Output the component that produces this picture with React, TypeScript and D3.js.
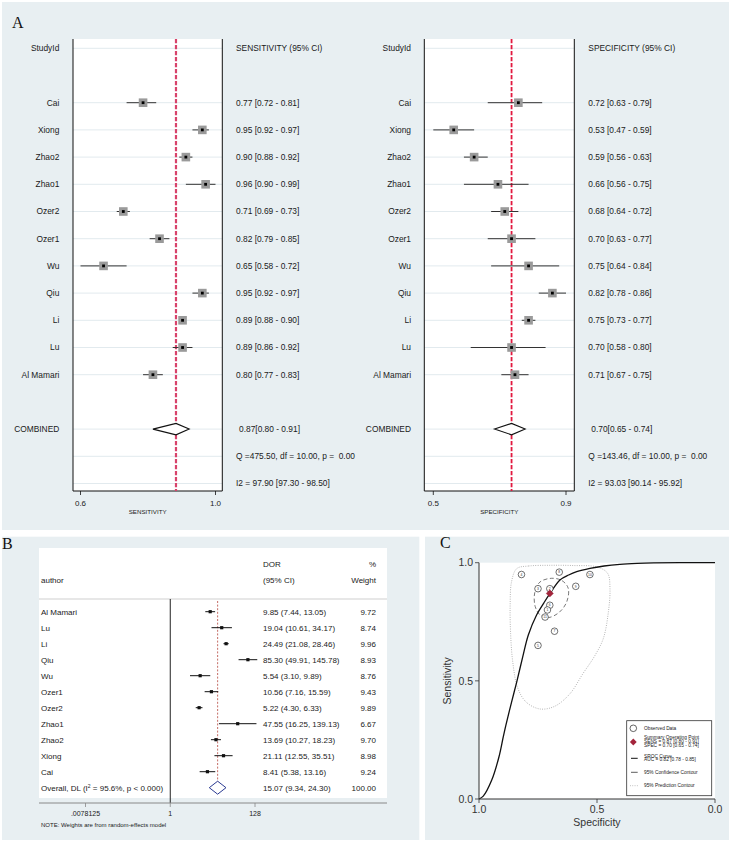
import React from 'react';
import * as d3 from 'd3';

const W = 731;
const H = 844;
const SANS = "'Liberation Sans', Arial, Helvetica, sans-serif";
const SERIF = "'Liberation Serif', 'Times New Roman', serif";
const BG = '#e8eff2';
const INK = '#1a1a1a';

// ---- Panel A: bivariate forest plot (sensitivity / specificity) ----
const studyIds = ['Cai', 'Xiong', 'Zhao2', 'Zhao1', 'Ozer2', 'Ozer1', 'Wu', 'Qiu', 'Li', 'Lu', 'Al Mamari'];
const sensEst = [0.77, 0.95, 0.9, 0.96, 0.71, 0.82, 0.65, 0.95, 0.89, 0.89, 0.8];
const sensLo = [0.72, 0.92, 0.88, 0.9, 0.69, 0.79, 0.58, 0.92, 0.88, 0.86, 0.77];
const sensHi = [0.81, 0.97, 0.92, 0.99, 0.73, 0.85, 0.72, 0.97, 0.9, 0.92, 0.83];
const specEst = [0.72, 0.53, 0.59, 0.66, 0.68, 0.7, 0.75, 0.82, 0.75, 0.7, 0.71];
const specLo = [0.63, 0.47, 0.56, 0.56, 0.64, 0.63, 0.64, 0.78, 0.73, 0.58, 0.67];
const specHi = [0.79, 0.59, 0.63, 0.75, 0.72, 0.77, 0.84, 0.86, 0.77, 0.8, 0.75];
const sensPooled = [0.87, 0.8, 0.91];
const specPooled = [0.7, 0.65, 0.74];
const sensHet = ['Q =475.50, df = 10.00, p =  0.00', 'I2 = 97.90 [97.30 - 98.50]'];
const specHet = ['Q =143.46, df = 10.00, p =  0.00', 'I2 = 93.03 [90.14 - 95.92]'];

// ---- Panel B: diagnostic odds ratio forest plot ----
const authors = ['Al Mamari', 'Lu', 'Li', 'Qiu', 'Wu', 'Ozer1', 'Ozer2', 'Zhao1', 'Zhao2', 'Xiong', 'Cai'];
const dor = [9.85, 19.04, 24.49, 85.3, 5.54, 10.56, 5.22, 47.55, 13.69, 21.11, 8.41];
const dorLo = [7.44, 10.61, 21.08, 49.91, 3.1, 7.16, 4.3, 16.25, 10.27, 12.55, 5.38];
const dorHi = [13.05, 34.17, 28.46, 145.78, 9.89, 15.59, 6.33, 139.13, 18.23, 35.51, 13.16];
const dorWeight = [9.72, 8.74, 9.96, 8.93, 8.76, 9.43, 9.89, 6.67, 9.7, 8.98, 9.24];
const dorOverall = [15.07, 9.34, 24.3];
const dorTicks = [0.0078125, 1, 128];
const dorTickLabels = ['.0078125', '1', '128'];

// ---- Panel C: SROC plot, points as [specificity, sensitivity] ----
const srocCurve: [number, number][] = [
  [1.0, 0.0], [0.982, 0.012], [0.946, 0.08], [0.915, 0.18], [0.897, 0.264], [0.886, 0.313],
  [0.862, 0.41], [0.84, 0.496], [0.815, 0.6], [0.791, 0.694], [0.756, 0.779], [0.725, 0.83],
  [0.699, 0.87], [0.657, 0.927], [0.62, 0.948], [0.586, 0.962], [0.53, 0.976], [0.47, 0.986],
  [0.403, 0.993], [0.33, 0.997], [0.26, 0.999], [0.15, 1.0], [0.0, 1.0],
];
const confContour: [number, number][] = [
  [0.692, 0.934], [0.648, 0.924], [0.622, 0.892], [0.628, 0.835], [0.66, 0.79], [0.705, 0.768],
  [0.74, 0.778], [0.762, 0.815], [0.764, 0.872], [0.742, 0.918],
];
const predContour: [number, number][] = [
  [0.84, 0.975], [0.79, 0.986], [0.7, 0.989], [0.6, 0.988], [0.5, 0.982], [0.455, 0.955],
  [0.445, 0.89], [0.452, 0.79], [0.473, 0.68], [0.51, 0.605], [0.56, 0.53], [0.615, 0.445],
  [0.68, 0.392], [0.742, 0.381], [0.8, 0.41], [0.836, 0.47], [0.857, 0.58], [0.866, 0.7],
  [0.868, 0.82], [0.862, 0.92],
];
const summaryPoint = [0.7, 0.87];
const legendLines = {
  observed: 'Observed Data',
  summary: ['Summary Operating Point', 'SENS = 0.87 [0.80 - 0.91]', 'SPEC = 0.70 [0.65 - 0.74]'],
  sroc: ['SROC Curve', 'AUC = 0.82 [0.78 - 0.85]'],
  conf: '95% Confidence Contour',
  pred: '95% Prediction Contour',
};

const f2 = d3.format('.2f');
const f1 = d3.format('.1f');

type HalfProps = {
  labelX: number;
  valueX: number;
  boxL: number;
  boxR: number;
  tickL: number;
  tickR: number;
  est: number[];
  lo: number[];
  hi: number[];
  pooled: number[];
  header: string;
  het: string[];
  axisTitle: string;
  refColor: string;
  refWidth: number;
};

const ROW0 = 48.3;
const ROWH = 27.2;
const BOX_TOP = 39;
const BOX_BOTTOM = 491;

function ForestHalf(p: HalfProps) {
  const x = d3
    .scaleLinear()
    .domain([d3.min(p.lo) as number, d3.max(p.hi) as number])
    .range([p.tickL, p.tickR]);
  const ticks = x.domain();
  const rowY = (i: number) => ROW0 + i * ROWH;
  const gridRows = [0, ...studyIds.map((_, i) => i + 2), 14, 15, 16];
  const cy = rowY(14);
  const [pe, pl, ph] = p.pooled;
  const diamond = `M${x(pl)},${cy} L${x(pe)},${cy - 5.7} L${x(ph)},${cy} L${x(pe)},${cy + 5.7} Z`;
  const txt = { fontFamily: SANS, fontSize: 8.4, fill: INK } as const;
  return (
    <g>
      <rect x={p.boxL} y={BOX_TOP} width={p.boxR - p.boxL} height={BOX_BOTTOM - BOX_TOP} fill="#fff" />
      {gridRows.map((r) => (
        <line key={r} x1={p.boxL} x2={p.boxR} y1={rowY(r)} y2={rowY(r)} stroke="#e2eaee" strokeWidth={1} />
      ))}
      <line x1={p.boxL} x2={p.boxL} y1={BOX_TOP} y2={BOX_BOTTOM} stroke="#111" strokeWidth={1} />
      <line x1={p.boxR} x2={p.boxR} y1={BOX_TOP} y2={BOX_BOTTOM} stroke="#111" strokeWidth={1} />
      <line x1={p.boxL} x2={p.boxR} y1={BOX_BOTTOM} y2={BOX_BOTTOM} stroke="#111" strokeWidth={1} />
      {ticks.map((t, i) => (
        <g key={i}>
          <line x1={x(t)} x2={x(t)} y1={BOX_BOTTOM} y2={BOX_BOTTOM + 4} stroke="#111" strokeWidth={0.8} />
          <text x={x(t)} y={506} textAnchor="middle" style={{ ...txt, fontSize: 8 }}>
            {f1(t)}
          </text>
        </g>
      ))}
      <text x={(p.boxL + p.boxR) / 2} y={514} textAnchor="middle" style={{ ...txt, fontSize: 6.2 }}>
        {p.axisTitle}
      </text>
      <line
        x1={x(pe)}
        x2={x(pe)}
        y1={BOX_TOP}
        y2={BOX_BOTTOM}
        stroke={p.refColor}
        strokeWidth={p.refWidth}
        strokeDasharray="4.2,1.8"
      />
      {p.est.map((v, i) => {
        const y = rowY(i + 2);
        return (
          <g key={studyIds[i]}>
            <line x1={x(p.lo[i])} x2={x(p.hi[i])} y1={y} y2={y} stroke="#333" strokeWidth={1} />
            <rect x={x(v) - 4.3} y={y - 4.3} width={8.6} height={8.6} fill="#9a9a9a" />
            <rect x={x(v) - 1.4} y={y - 1.4} width={2.8} height={2.8} fill="#000" />
          </g>
        );
      })}
      <path d={diamond} fill="#fff" stroke="#111" strokeWidth={1.1} />
      <text x={p.labelX} y={rowY(0)} dy="0.35em" textAnchor="end" style={txt}>
        StudyId
      </text>
      <text x={p.valueX} y={rowY(0)} dy="0.35em" style={txt}>
        {p.header}
      </text>
      {studyIds.map((s, i) => (
        <g key={s}>
          <text x={p.labelX} y={rowY(i + 2)} dy="0.35em" textAnchor="end" style={txt}>
            {s}
          </text>
          <text x={p.valueX} y={rowY(i + 2)} dy="0.35em" style={txt}>
            {`${f2(p.est[i])} [${f2(p.lo[i])} - ${f2(p.hi[i])}]`}
          </text>
        </g>
      ))}
      <text x={p.labelX} y={cy} dy="0.35em" textAnchor="end" style={txt}>
        COMBINED
      </text>
      <text x={p.valueX + 3} y={cy} dy="0.35em" style={txt}>
        {`${f2(pe)}[${f2(pl)} - ${f2(ph)}]`}
      </text>
      {p.het.map((h, k) => (
        <text key={k} x={p.valueX} y={rowY(15 + k)} dy="0.35em" style={{ ...txt, whiteSpace: 'pre' }}>
          {h}
        </text>
      ))}
    </g>
  );
}

function PanelB() {
  const x = d3.scaleLog().base(2).domain([0.0078125, 128]).range([85.5, 255]);
  const rowY = (i: number) => 611.7 + i * 16;
  const txt = { fontFamily: SANS, fontSize: 8, fill: INK } as const;
  const oy = rowY(11);
  const [oe, ol, oh] = dorOverall;
  const diamond = `M${x(ol)},${oy} L${x(oe)},${oy - 6.5} L${x(oh)},${oy} L${x(oe)},${oy + 6.5} Z`;
  return (
    <g>
      <rect x={2} y={536.7} width={417.3} height={303.3} fill={BG} />
      <rect x={39} y={548} width={348} height={250} fill="#fff" />
      <text x={2} y={549} style={{ fontFamily: SERIF, fontSize: 16, fill: '#111' }}>
        B
      </text>
      <text x={263} y={567} style={txt}>DOR</text>
      <text x={263} y={583} style={txt}>(95% CI)</text>
      <text x={376} y={567} textAnchor="end" style={txt}>%</text>
      <text x={376} y={583} textAnchor="end" style={txt}>Weight</text>
      <text x={41} y={583} style={txt}>author</text>
      <line x1={39} x2={387} y1={599} y2={599} stroke="#cfcfcf" strokeWidth={1} />
      <line x1={x(1)} x2={x(1)} y1={599} y2={803} stroke="#222" strokeWidth={1} />
      <line
        x1={x(oe)}
        x2={x(oe)}
        y1={601}
        y2={oy + 6.5}
        stroke="#b5473f"
        strokeWidth={0.8}
        strokeDasharray="2,1.6"
      />
      {authors.map((a, i) => {
        const y = rowY(i);
        return (
          <g key={a}>
            <line x1={x(dorLo[i])} x2={x(dorHi[i])} y1={y} y2={y} stroke="#111" strokeWidth={1} />
            <rect x={x(dor[i]) - 1.6} y={y - 1.6} width={3.2} height={3.2} fill="#111" />
            <text x={41} y={y + 3} style={txt}>{a}</text>
            <text x={263} y={y + 3} style={txt}>
              {`${f2(dor[i])} (${f2(dorLo[i])}, ${f2(dorHi[i])})`}
            </text>
            <text x={376} y={y + 3} textAnchor="end" style={txt}>{f2(dorWeight[i])}</text>
          </g>
        );
      })}
      <path d={diamond} fill="#fff" stroke="#2a3a92" strokeWidth={1} />
      <text x={41} y={oy + 3} style={txt}>
        Overall, DL (I
        <tspan fontSize={5} dy={-3}>2</tspan>
        <tspan dy={3}> = 95.6%, p &lt; 0.000)</tspan>
      </text>
      <text x={263} y={oy + 3} style={txt}>{`${f2(oe)} (${f2(ol)}, ${f2(oh)})`}</text>
      <text x={376} y={oy + 3} textAnchor="end" style={txt}>100.00</text>
      <line x1={39} x2={387} y1={803} y2={803} stroke="#888" strokeWidth={1} />
      {dorTicks.map((t, i) => (
        <g key={t}>
          <line x1={x(t)} x2={x(t)} y1={803} y2={807} stroke="#888" strokeWidth={0.8} />
          <text x={x(t)} y={815.5} textAnchor="middle" style={{ ...txt, fontSize: 7 }}>
            {dorTickLabels[i]}
          </text>
        </g>
      ))}
      <text x={41} y={827} style={{ ...txt, fontSize: 6 }}>
        NOTE: Weights are from random-effects model
      </text>
    </g>
  );
}

function PanelC() {
  const x = d3.scaleLinear().domain([1, 0]).range([479, 715]);
  const y = d3.scaleLinear().domain([0, 1]).range([799, 562.7]);
  const line = d3
    .line<[number, number]>()
    .x((d) => x(d[0]))
    .y((d) => y(d[1]));
  const srocPath = line.curve(d3.curveCatmullRom.alpha(0.5))(srocCurve) as string;
  const closed = d3
    .line<[number, number]>()
    .x((d) => x(d[0]))
    .y((d) => y(d[1]))
    .curve(d3.curveCatmullRomClosed.alpha(0.5));
  const confPath = closed(confContour) as string;
  const predPath = closed(predContour) as string;
  const axisTxt = { fontFamily: SANS, fontSize: 10.5, fill: '#333' } as const;
  const legTxt = { fontFamily: SANS, fontSize: 4.8, fill: '#222' } as const;
  const ticks = [1, 0.5, 0];
  const dia = (cx: number, cy: number, r: number) =>
    `M${cx},${cy - r} L${cx + r},${cy} L${cx},${cy + r} L${cx - r},${cy} Z`;
  return (
    <g>
      <rect x={425} y={536.7} width={304} height={303.3} fill={BG} />
      <text x={440} y={548} style={{ fontFamily: SERIF, fontSize: 16, fill: '#111' }}>
        C
      </text>
      <rect x={479} y={562.7} width={236} height={236.3} fill="#fff" />
      <path d={predPath} fill="none" stroke="#9a9a9a" strokeWidth={0.8} strokeDasharray="0.9,1.4" />
      <path d={confPath} fill="none" stroke="#555" strokeWidth={0.8} strokeDasharray="4,2.5" />
      <path d={srocPath} fill="none" stroke="#111" strokeWidth={1.3} />
      {studyIds.map((s, i) => {
        const cx = x(specEst[i]);
        const cy = y(sensEst[i]);
        return (
          <g key={s}>
            <circle cx={cx} cy={cy} r={3.3} fill="#fff" stroke="#333" strokeWidth={0.7} />
            <text
              x={cx}
              y={cy + 1.2}
              textAnchor="middle"
              style={{ fontFamily: SANS, fontSize: 3.4, fill: '#333' }}
            >
              {studyIds.length - i}
            </text>
          </g>
        );
      })}
      <path d={dia(x(summaryPoint[0]), y(summaryPoint[1]), 3.6)} fill="#a3243b" stroke="#8c1f33" strokeWidth={0.4} />
      <line x1={479} x2={479} y1={562.7} y2={799} stroke="#333" strokeWidth={1} />
      <line x1={479} x2={715} y1={799} y2={799} stroke="#333" strokeWidth={1} />
      {ticks.map((t) => (
        <g key={`y${t}`}>
          <line x1={475} x2={479} y1={y(t)} y2={y(t)} stroke="#333" strokeWidth={0.8} />
          <text x={473} y={y(t) + 3.7} textAnchor="end" style={axisTxt}>
            {f1(t)}
          </text>
        </g>
      ))}
      {ticks.map((t) => (
        <g key={`x${t}`}>
          <line x1={x(t)} x2={x(t)} y1={799} y2={803} stroke="#333" strokeWidth={0.8} />
          <text x={x(t)} y={812.5} textAnchor="middle" style={axisTxt}>
            {f1(t)}
          </text>
        </g>
      ))}
      <text x={597} y={825.5} textAnchor="middle" style={axisTxt}>
        Specificity
      </text>
      <text
        transform={`translate(451,${y(0.5)}) rotate(-90)`}
        textAnchor="middle"
        style={axisTxt}
      >
        Sensitivity
      </text>
      <rect x={626.7} y={720.7} width={85} height={75} fill="#fff" stroke="#333" strokeWidth={0.8} />
      <circle cx={633.3} cy={728.3} r={3.3} fill="#fff" stroke="#222" strokeWidth={0.7} />
      <text x={644} y={730} style={legTxt}>{legendLines.observed}</text>
      <path d={dia(633.3, 742, 3.4)} fill="#a3243b" />
      {legendLines.summary.map((t, k) => (
        <text key={t} x={644} y={738.8 + k * 3.9} style={legTxt}>{t}</text>
      ))}
      <line x1={631} x2={637.7} y1={758.3} y2={758.3} stroke="#111" strokeWidth={1} />
      {legendLines.sroc.map((t, k) => (
        <text key={t} x={644} y={757.5 + k * 3.9} style={legTxt}>{t}</text>
      ))}
      <line x1={631} x2={637.7} y1={772.3} y2={772.3} stroke="#333" strokeWidth={0.8} />
      <text x={644} y={774} style={legTxt}>{legendLines.conf}</text>
      <line
        x1={630}
        x2={638.5}
        y1={785.7}
        y2={785.7}
        stroke="#aaa"
        strokeWidth={0.8}
        strokeDasharray="0.9,1.4"
      />
      <text x={644} y={787.4} style={legTxt}>{legendLines.pred}</text>
    </g>
  );
}

export default function App() {
  return (
    <svg
      width={W}
      height={H}
      viewBox={`0 0 ${W} ${H}`}
      style={{ position: 'absolute', left: 0, top: 0, background: '#fff' }}
    >
      <rect x={2} y={2} width={727} height={528} fill={BG} />
      <text x={12} y={28} style={{ fontFamily: SERIF, fontSize: 16, fill: '#111' }}>
        A
      </text>
      <ForestHalf
        labelX={59.3}
        valueX={236}
        boxL={73}
        boxR={222.3}
        tickL={80.5}
        tickR={215.5}
        est={sensEst}
        lo={sensLo}
        hi={sensHi}
        pooled={sensPooled}
        header="SENSITIVITY (95% CI)"
        het={sensHet}
        axisTitle="SENSITIVITY"
        refColor="#d8436b"
        refWidth={2.2}
      />
      <ForestHalf
        labelX={411}
        valueX={588.3}
        boxL={424.3}
        boxR={574.3}
        tickL={433.3}
        tickR={566}
        est={specEst}
        lo={specLo}
        hi={specHi}
        pooled={specPooled}
        header="SPECIFICITY (95% CI)"
        het={specHet}
        axisTitle="SPECIFICITY"
        refColor="#e2193f"
        refWidth={1.8}
      />
      <PanelB />
      <PanelC />
    </svg>
  );
}
